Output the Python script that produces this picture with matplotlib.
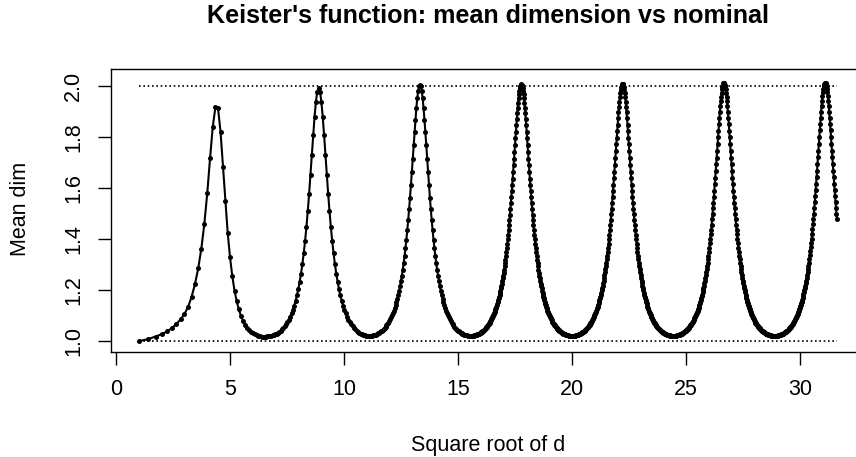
import numpy as np
import matplotlib
matplotlib.use("Agg")
import matplotlib.pyplot as plt

plt.rcParams['font.family'] = ['Liberation Sans', 'DejaVu Sans']

# ---------------- data ----------------
title = "Keister's function: mean dimension vs nominal"
xlabel = "Square root of d"
ylabel = "Mean dim"

# first lobe: nominal dimension d = 1..44 and mean dimension read per point
d_first = list(range(1, 45))
md_first = [1.000, 1.008, 1.018, 1.027, 1.038, 1.051, 1.067, 1.085, 1.106, 1.134,
            1.174, 1.224, 1.285, 1.362, 1.459, 1.578, 1.715, 1.839, 1.916, 1.912,
            1.820, 1.683, 1.547, 1.422, 1.328, 1.254, 1.198, 1.156, 1.124, 1.099,
            1.079, 1.064, 1.052, 1.043, 1.036, 1.031, 1.027, 1.024, 1.021, 1.019,
            1.018, 1.018, 1.018, 1.019]

# later lobes: peak locations (sqrt d) and peak heights
peak_x = [8.886, 13.329, 17.772, 22.214, 26.657, 31.100]
peak_md = [1.990, 2.003, 2.005, 2.008, 2.010, 2.012]
lobe_half_width = 2.2214          # sqrt(d) distance from a peak to the next trough
# mean dimension read along half a lobe, from the peak (index 0) to the trough (index 112)
half_profile = [
    2.0105, 2.0089, 2.0043, 1.9966, 1.9861, 1.9727, 1.9570, 1.9389, 1.9188, 1.8970,
    1.8737, 1.8493, 1.8240, 1.7980, 1.7716, 1.7449, 1.7183, 1.6917, 1.6654, 1.6396,
    1.6142, 1.5895, 1.5654, 1.5420, 1.5194, 1.4975, 1.4764, 1.4561, 1.4366, 1.4178,
    1.3999, 1.3826, 1.3661, 1.3503, 1.3352, 1.3208, 1.3070, 1.2938, 1.2812, 1.2692,
    1.2577, 1.2467, 1.2363, 1.2262, 1.2167, 1.2076, 1.1988, 1.1905, 1.1825, 1.1749,
    1.1676, 1.1606, 1.1540, 1.1476, 1.1415, 1.1357, 1.1301, 1.1248, 1.1196, 1.1147,
    1.1100, 1.1056, 1.1012, 1.0971, 1.0932, 1.0894, 1.0858, 1.0823, 1.0789, 1.0757,
    1.0727, 1.0698, 1.0670, 1.0643, 1.0617, 1.0592, 1.0568, 1.0546, 1.0524, 1.0503,
    1.0484, 1.0465, 1.0447, 1.0429, 1.0413, 1.0397, 1.0382, 1.0368, 1.0355, 1.0342,
    1.0330, 1.0318, 1.0307, 1.0297, 1.0287, 1.0278, 1.0270, 1.0262, 1.0255, 1.0248,
    1.0242, 1.0236, 1.0231, 1.0226, 1.0222, 1.0218, 1.0215, 1.0212, 1.0210, 1.0208,
    1.0207, 1.0206, 1.0206]
lobe_stride = [3, 2, 1, 1, 1, 1]  # point density of each lobe (points are per integer d)
d_max = 1000

ref_levels = [1.0, 2.0]
xticks = [0, 5, 10, 15, 20, 25, 30]
yticks = [1.0, 1.2, 1.4, 1.6, 1.8, 2.0]
ytick_labels = ["1.0", "1.2", "1.4", "1.6", "1.8", "2.0"]

# ---------------- build the series ----------------
x_end = np.sqrt(d_max)
xs = list(np.sqrt(np.array(d_first, dtype=float)))
ys = list(md_first)
n_half = len(half_profile) - 1
step = lobe_half_width / n_half
lo = half_profile[-1]
hi = half_profile[0]
for px, ph, st in zip(peak_x, peak_md, lobe_stride):
    lim = (n_half // st) * st
    idx = np.arange(-lim, lim + 1, st)
    xv = px + idx * step
    yv = lo + (np.array(half_profile)[np.abs(idx)] - lo) * (ph - lo) / (hi - lo)
    keep = xv <= x_end + 1e-9
    xs.extend(xv[keep])
    ys.extend(yv[keep])
xs = np.array(xs)
ys = np.array(ys)

# ---------------- figure ----------------
W, H = 856, 457
fig = plt.figure(figsize=(W / 100, H / 100), dpi=100)
left_px, right_px, top_px, bottom_px = 110.9, 865.0, 69.0, 352.3
ax = fig.add_axes([left_px / W, 1 - bottom_px / H,
                   (right_px - left_px) / W, (bottom_px - top_px) / H])

ax.plot(xs, ys, '-', color='black', lw=1.5, zorder=3)
ax.plot(xs, ys, 'o', color='black', ms=3.6, mew=0, zorder=4)

for lv in ref_levels:
    ax.plot([1, x_end], [lv, lv], color='black', lw=1.2,
            linestyle=(0, (1, 1.6)), zorder=2)

ax.set_xlim(-0.225, 32.848)
ax.set_ylim(0.9562, 2.065)

ax.set_xticks(xticks)
ax.set_xticklabels([str(t) for t in xticks])
ax.set_yticks(yticks)
ax.set_yticklabels(ytick_labels, rotation=90, va='center', ha='right')

ax.tick_params(axis='both', direction='out', length=9.1, width=1.0,
               labelsize=15.5, pad=10, colors='black')
for sp in ax.spines.values():
    sp.set_linewidth(1.0)
    sp.set_color('black')

fig.text(488 / W, 1 - 16 / H, title, ha='center', va='center',
         fontsize=18.1, fontweight='bold')
fig.text(488 / W, 1 - 445 / H, xlabel, ha='center', va='center', fontsize=15.5)
fig.text(21 / W, 1 - 209 / H, ylabel, ha='center', va='center',
         fontsize=15.5, rotation=90)

fig.savefig('out.png', dpi=100)
